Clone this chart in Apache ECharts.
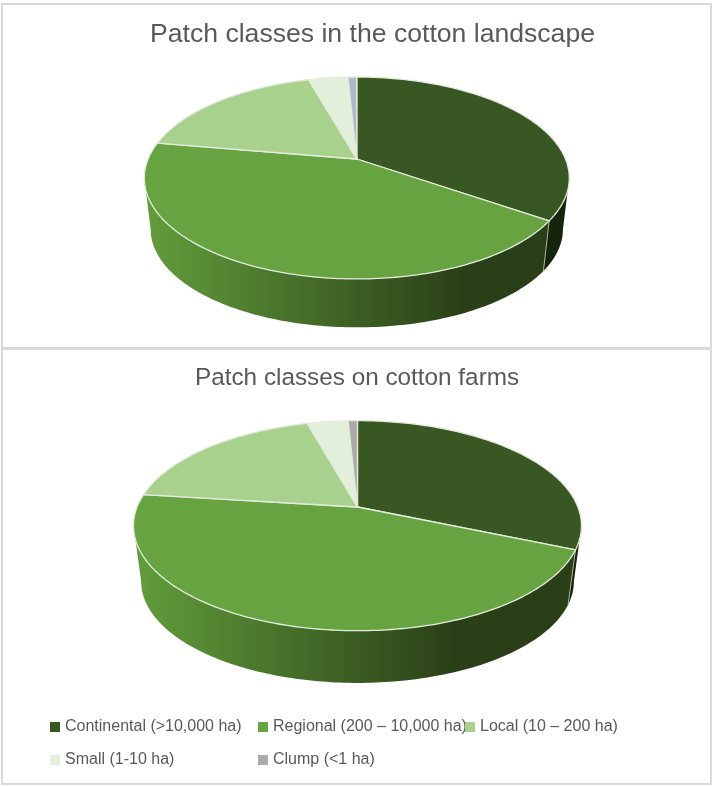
<!DOCTYPE html>
<html>
<head>
<meta charset="utf-8">
<style>html,body{margin:0;padding:0;background:#fff}#c{width:713px;height:786px}</style>
<script src="https://cdn.jsdelivr.net/npm/echarts@6/dist/echarts.min.js"></script>
</head>
<body>
<div id="c"></div>
<script>
// ---- data (percent of each pie) ----
const categories = ['Continental (>10,000 ha)', 'Regional (200 – 10,000 ha)', 'Local (10 – 200 ha)', 'Small (1-10 ha)', 'Clump (<1 ha)'];
const landscapeShares = [34.6, 43.1, 17.9, 3.6, 0.8];
const farmShares = [31.4, 45.6, 18.7, 3.5, 0.8];
const chartTitles = ['Patch classes in the cotton landscape', 'Patch classes on cotton farms'];

// ---- styles ----
const faceColors = ['#385723', '#67a340', '#a9d18e', '#e2efda', '#aeaaaa'];
const landscapeClumpColor = '#adb9ca';
const allShares = [landscapeShares, farmShares];
const FONT = '"Liberation Sans", Arial, sans-serif';

// ---- perspective of the two pies: homography of a unit disc ----
const panes = [
  { cx: 356.8, apexY: 159, A: 208.7, B: 97.4, k: 0.188, depth: 52, scale: 0.97, gradFrom: 148, gradTo: 463 },
  { cx: 357.5, apexY: 507, A: 220.4, B: 101.7, k: 0.178, depth: 56.4, scale: 0.966, gradFrom: 138, gradTo: 455 }
];
const rimPoint = (p, deg, lower) => {
  const t = deg * Math.PI / 180, u = Math.sin(t), v = -Math.cos(t), w = 1 - p.k * v;
  const s = lower ? p.scale : 1, y0 = p.apexY + (lower ? p.depth : 0);
  return [p.cx + s * p.A * u / w, y0 + s * p.B * v / w];
};
const sliceAngles = (pieIdx, catIdx) => {
  const shares = allShares[pieIdx];
  const total = shares.reduce((a, b) => a + b, 0);
  const before = shares.slice(0, catIdx).reduce((a, b) => a + b, 0);
  return [before / total * 360, (before + shares[catIdx]) / total * 360];
};
const rimArc = (p, from, to, lower) => {
  const pts = [], n = Math.max(2, Math.ceil(to - from));
  for (let i = 0; i <= n; i++) pts.push(rimPoint(p, from + (to - from) * i / n, lower));
  return pts;
};

const faceRenderer = catIdx => (params, api) => {
  const p = panes[params.dataIndex];
  const [a0, a1] = sliceAngles(params.dataIndex, catIdx);
  return {
    type: 'polygon',
    shape: { points: [[p.cx, p.apexY]].concat(rimArc(p, a0, a1, false)) },
    style: { fill: api.visual('color'), stroke: '#e3ebdc', lineWidth: 1.3, lineJoin: 'round' },
    silent: true
  };
};
const sideRenderer = catIdx => (params, api) => {
  const p = panes[params.dataIndex];
  const [a0, a1] = sliceAngles(params.dataIndex, catIdx);
  // the wall is only seen between the two widest points of the rim
  const edge = Math.asin(p.k) * 180 / Math.PI;
  const from = Math.max(a0, 90 + edge), to = Math.min(a1, 270 - edge);
  if (to <= from) return { type: 'group', children: [] };
  const fill = catIdx === 0 ? '#15250c' : {
    type: 'linear', x: p.gradFrom, y: 0, x2: p.gradTo, y2: 0, global: true,
    colorStops: [{ offset: 0, color: '#619c3b' }, { offset: 1, color: '#2a3f17' }]
  };
  const children = [{
    type: 'polygon',
    shape: { points: rimArc(p, from, to, false).concat(rimArc(p, from, to, true).reverse()) },
    style: { fill: fill },
    silent: true
  }];
  if (catIdx === 1) {
    children.push({
      type: 'polyline',
      shape: { points: [rimPoint(p, from, false), rimPoint(p, from, true)] },
      style: { stroke: '#a3ad9a', lineWidth: 1, fill: 'none' },
      silent: true
    });
  }
  return { type: 'group', children };
};

const seriesData = i => allShares.map((shares, pie) => ({
  value: shares[i],
  itemStyle: (i === 4 && pie === 0) ? { color: landscapeClumpColor } : undefined
}));
const series = [];
categories.forEach((name, i) => {
  series.push({ type: 'custom', name, coordinateSystem: 'none', z: 3, itemStyle: { color: faceColors[i] },
    renderItem: faceRenderer(i), data: seriesData(i), silent: true });
});
categories.forEach((name, i) => {
  series.push({ type: 'custom', name, coordinateSystem: 'none', z: 2, itemStyle: { color: faceColors[i] },
    renderItem: sideRenderer(i), data: seriesData(i), silent: true });
});

const legendSpots = [[50, 719], [258, 719], [465, 719], [50, 752], [258, 752]];
const chart = echarts.init(document.getElementById('c'), null, { renderer: 'canvas' });
chart.setOption({
  animation: false,
  backgroundColor: '#ffffff',
  title: [
    { text: chartTitles[0], left: 145, top: 16, textStyle: { color: '#595959', fontFamily: FONT, fontSize: 26.6, fontWeight: 'normal' } },
    { text: chartTitles[1], left: 190, top: 361, textStyle: { color: '#595959', fontFamily: FONT, fontSize: 24.3, fontWeight: 'normal' } }
  ],
  legend: categories.map((name, i) => ({
    data: [name], left: legendSpots[i][0], top: legendSpots[i][1], padding: 0, orient: 'horizontal',
    itemWidth: 10, itemHeight: 10, icon: 'rect', selectedMode: false,
    textStyle: { color: '#595959', fontFamily: FONT, fontSize: 16 }
  })),
  graphic: [
    { type: 'rect', z: 0, silent: true, shape: { x: 2, y: 4, width: 709, height: 344 }, style: { fill: 'none', stroke: '#d9d9d9', lineWidth: 2 } },
    { type: 'rect', z: 0, silent: true, shape: { x: 2, y: 349, width: 709, height: 435 }, style: { fill: 'none', stroke: '#d9d9d9', lineWidth: 2 } }
  ],
  series
});
</script>
</body>
</html>
